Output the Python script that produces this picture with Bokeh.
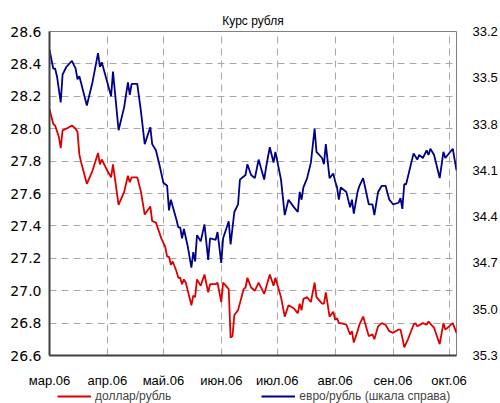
import pandas as pd
from bokeh.plotting import figure
from bokeh.models import (Range1d, LinearAxis, FixedTicker, Legend, LegendItem,
                          NumeralTickFormatter, ColumnDataSource)
from bokeh.layouts import column
from bokeh.embed import file_html
from bokeh.resources import INLINE

title_text = "Курс рубля"
start_date = "2006-03-01"
end_date = "2006-10-05"
month_starts = ["2006-03-01", "2006-04-01", "2006-05-01", "2006-06-01",
                "2006-07-01", "2006-08-01", "2006-09-01", "2006-10-01"]
month_labels = ["мар.06", "апр.06", "май.06", "июн.06",
                "июл.06", "авг.06", "сен.06", "окт.06"]
usd_ticks = [26.6, 26.8, 27.0, 27.2, 27.4, 27.6, 27.8, 28.0, 28.2, 28.4, 28.6]
eur_ticks = [33.2, 33.5, 33.8, 34.1, 34.4, 34.7, 35.0, 35.3]
usd_label = "доллар/рубль"
eur_label = "евро/рубль (шкала справа)"

# days since 1 March 2006
usd_day = [0, 2, 3, 5, 6, 7, 9, 12, 14, 15, 16, 17, 20, 23, 26, 27, 28, 31, 33, 34,
           37, 40, 42, 43, 44, 47, 49, 51, 54, 55, 57, 60, 62, 63, 64, 65, 66, 68, 69, 70,
           71, 72, 73, 76, 77, 78, 79, 81, 83, 85, 86, 89, 90, 92, 93, 96, 97, 98, 99, 101,
           104, 105, 106, 108, 110, 112, 115, 116, 118, 120, 121, 124, 126, 128, 131, 133, 134, 135, 136, 138,
           140, 142, 143, 146, 147, 148, 150, 152, 153, 154, 155, 156, 159, 161, 162, 163, 165, 166, 168, 171,
           173, 174, 176, 178, 180, 182, 184, 187, 188, 189, 190, 192, 195, 196, 197, 200, 202, 203, 206, 209,
           211, 212, 216, 218]
usd_rate = [28.12, 28.03, 28.02, 27.95, 27.88, 27.99, 28.00, 28.02, 28.00, 27.98, 27.84, 27.79, 27.66, 27.74, 27.85, 27.78, 27.81, 27.74, 27.70, 27.78,
            27.53, 27.61, 27.71, 27.67, 27.70, 27.70, 27.61, 27.47, 27.52, 27.43, 27.42, 27.32, 27.27, 27.21, 27.21, 27.16, 27.18, 27.12, 27.08, 27.08,
            27.04, 27.07, 27.05, 26.91, 26.97, 26.96, 27.07, 27.03, 27.10, 26.99, 27.04, 27.04, 27.05, 26.93, 27.05, 27.01, 26.71, 26.72, 26.85, 26.88,
            27.01, 27.02, 27.08, 27.02, 27.00, 27.05, 26.98, 27.02, 27.10, 27.03, 27.08, 26.96, 26.84, 26.91, 26.89, 26.86, 26.92, 26.88, 26.95, 26.96,
            26.93, 27.05, 26.96, 26.92, 26.92, 26.99, 26.84, 26.87, 26.82, 26.83, 26.80, 26.80, 26.79, 26.73, 26.75, 26.68, 26.75, 26.79, 26.84, 26.72,
            26.73, 26.70, 26.78, 26.80, 26.79, 26.75, 26.74, 26.76, 26.76, 26.71, 26.65, 26.70, 26.79, 26.80, 26.78, 26.80, 26.79, 26.81, 26.77, 26.67,
            26.80, 26.76, 26.80, 26.74]

eur_day = [0, 2, 3, 4, 6, 7, 9, 12, 14, 15, 16, 20, 23, 26, 27, 28, 33, 34, 37, 40,
           42, 43, 44, 47, 49, 51, 54, 55, 57, 59, 61, 63, 64, 65, 68, 69, 70, 71, 72, 74,
           76, 77, 78, 79, 81, 83, 85, 86, 89, 90, 92, 93, 96, 97, 99, 101, 102, 104, 105, 106,
           108, 110, 112, 115, 116, 118, 120, 121, 124, 126, 128, 131, 133, 134, 135, 136, 138, 140, 142, 143,
           146, 147, 148, 150, 152, 153, 154, 155, 156, 159, 161, 162, 163, 165, 166, 168, 171, 173, 174, 176,
           178, 180, 182, 184, 187, 188, 189, 190, 191, 195, 197, 198, 200, 202, 203, 204, 206, 209, 211, 212,
           216, 218]
eur_rate = [33.32, 33.44, 33.44, 33.49, 33.66, 33.48, 33.43, 33.39, 33.44, 33.51, 33.49, 33.68, 33.53, 33.34, 33.43, 33.40, 33.62, 33.46, 33.84, 33.69,
            33.53, 33.61, 33.54, 33.54, 33.72, 33.93, 33.82, 33.93, 33.97, 34.07, 34.18, 34.20, 34.36, 34.29, 34.42, 34.47, 34.47, 34.54, 34.48, 34.59,
            34.73, 34.63, 34.69, 34.52, 34.56, 34.45, 34.68, 34.54, 34.55, 34.50, 34.70, 34.54, 34.43, 34.58, 34.37, 34.32, 34.16, 34.14, 34.13, 34.06,
            34.13, 34.15, 34.03, 34.16, 34.08, 33.95, 34.05, 33.98, 34.16, 34.39, 34.29, 34.34, 34.37, 34.24, 34.29, 34.21, 34.15, 34.05, 33.83, 33.98,
            34.02, 34.06, 33.93, 34.15, 34.12, 34.17, 34.21, 34.29, 34.21, 34.24, 34.34, 34.29, 34.38, 34.24, 34.20, 34.15, 34.32, 34.32, 34.39, 34.24,
            34.20, 34.20, 34.29, 34.32, 34.31, 34.28, 34.35, 34.19, 34.19, 33.99, 34.03, 34.00, 34.02, 33.97, 34.00, 33.96, 34.00, 34.15, 33.98, 34.02,
            33.96, 34.10]

FONT = "Liberation Sans"
RED = "#dd0000"
BLUE = "#000088"
t0 = pd.Timestamp(start_date)
x_end = (pd.Timestamp(end_date) - t0).days
month_pos = [(pd.Timestamp(m) - t0).days for m in month_starts]

p = figure(width=500, height=388, x_range=Range1d(0, x_end),
           y_range=Range1d(usd_ticks[0], usd_ticks[-1]),
           output_backend="svg", toolbar_location=None,
           min_border_left=49, min_border_right=38, min_border_top=29, min_border_bottom=29,
           title=title_text)
p.title.align = "center"
p.title.text_font = FONT
p.title.text_font_size = "12px"
p.title.text_font_style = "normal"
p.title.text_color = "#000000"
p.title.offset = -5
p.title.standoff = 7

p.extra_y_ranges = {"eur": Range1d(start=eur_ticks[-1], end=eur_ticks[0])}

p.outline_line_color = "#808080"
p.outline_line_width = 1

# x axis
p.xaxis.ticker = FixedTicker(ticks=month_pos)
p.xaxis.major_label_overrides = {pos: lab for pos, lab in zip(month_pos, month_labels)}
p.xgrid.ticker = FixedTicker(ticks=month_pos)

# left axis
p.yaxis.ticker = FixedTicker(ticks=usd_ticks)
p.yaxis.formatter = NumeralTickFormatter(format="0.0")

ax_r = LinearAxis(y_range_name="eur", ticker=FixedTicker(ticks=eur_ticks),
                  formatter=NumeralTickFormatter(format="0.0"))
p.add_layout(ax_r, "right")

for ax in [p.xaxis[0], p.yaxis[0], ax_r]:
    ax.major_tick_line_color = None
    ax.minor_tick_line_color = None
    ax.major_label_text_font = FONT
    ax.major_label_text_font_size = "13px"
    ax.major_label_text_color = "#000000"
p.yaxis[0].major_label_text_font = "DejaVu Sans"
p.yaxis[0].major_label_text_font_size = "14px"
p.xaxis.axis_line_color = "#404040"
p.xaxis.axis_line_width = 2
p.xaxis.major_label_standoff = 11
p.yaxis[0].axis_line_color = "#404040"
p.yaxis[0].axis_line_width = 2
p.yaxis[0].major_label_standoff = 2
ax_r.axis_line_color = None
ax_r.major_label_standoff = 10

for g in [p.xgrid[0], p.ygrid[0]]:
    g.grid_line_color = "#a8a8a8"
    g.grid_line_dash = "7 5"
    g.grid_line_width = 1

usd_src = ColumnDataSource(dict(x=usd_day, y=usd_rate))
eur_src = ColumnDataSource(dict(x=eur_day, y=eur_rate))
p.line("x", "y", source=usd_src, line_color=RED, line_width=1.8)
p.line("x", "y", source=eur_src, line_color=BLUE, line_width=1.8, y_range_name="eur")

# legend strip below the chart (its keys use the same series, out of view)
lf = figure(width=500, height=13, x_range=Range1d(-2, -1), y_range=Range1d(0, 1),
            output_backend="svg", toolbar_location=None,
            min_border=0, min_border_left=0, min_border_right=0,
            min_border_top=0, min_border_bottom=0,
            x_axis_location=None, y_axis_location=None, outline_line_color=None)
lf.xgrid.visible = False
lf.ygrid.visible = False
k_usd = lf.line("x", "y", source=usd_src, line_color=RED, line_width=1.8)
k_eur = lf.line("x", "y", source=eur_src, line_color=BLUE, line_width=1.8)
legend = Legend(items=[LegendItem(label=usd_label, renderers=[k_usd]),
                       LegendItem(label=eur_label, renderers=[k_eur])],
                orientation="horizontal", location=(8, 0),
                label_text_font=FONT, label_text_font_size="12px",
                glyph_width=34, glyph_height=12, label_height=12,
                label_standoff=4, spacing=90, padding=0, margin=0,
                border_line_color=None, background_fill_alpha=0)
lf.add_layout(legend)

# thin red rule along the top edge
tf = figure(width=500, height=2, x_range=Range1d(-2, -1), y_range=Range1d(0, 1),
            output_backend="svg", toolbar_location=None,
            min_border=0, min_border_left=0, min_border_right=0,
            min_border_top=0, min_border_bottom=0,
            x_axis_location=None, y_axis_location=None, outline_line_color=None,
            border_fill_color="#e00000", background_fill_color="#e00000")
tf.xgrid.visible = False
tf.ygrid.visible = False
tf.line("x", "y", source=usd_src, line_color="#e00000")

layout = column(tf, p, lf, spacing=0)
open("out.html", "w").write(file_html(layout, INLINE))
